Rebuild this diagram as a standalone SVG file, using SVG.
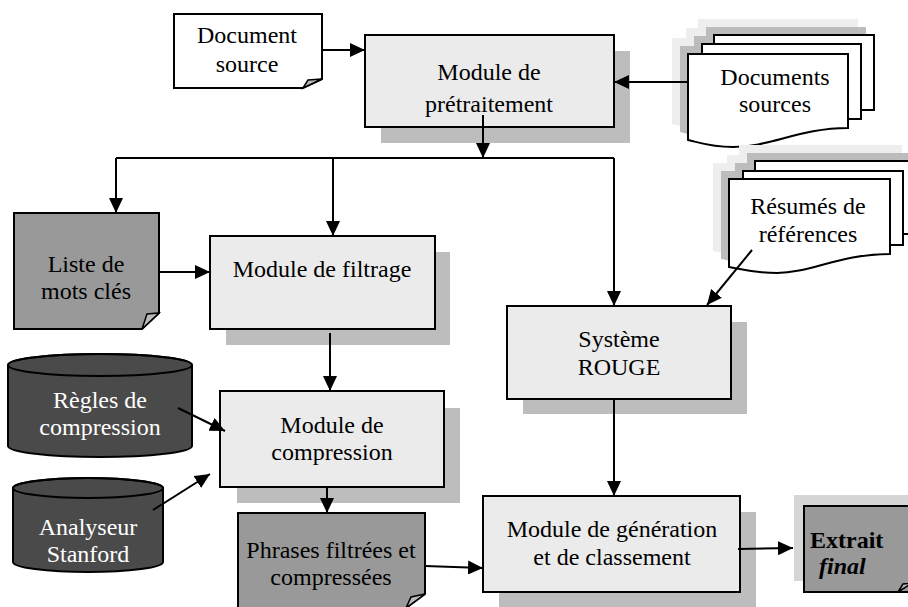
<svg xmlns="http://www.w3.org/2000/svg" width="908" height="607" viewBox="0 0 908 607">
<defs>
<style>
text{font-family:'Liberation Serif','Times New Roman','DejaVu Serif',serif;font-size:24px;fill:#000;text-anchor:middle}
.w{fill:#fff}
.box{fill:#ebebeb;stroke:#000;stroke-width:2}
.sh{fill:#bdbdbd}
.doc{fill:#fff;stroke:#000;stroke-width:2}
.dk{fill:#999;stroke:#000;stroke-width:2}
.fold{fill:#bbb;stroke:#000;stroke-width:1.5}
.cyl{fill:#4a4a4a;stroke:#000;stroke-width:2}
.s1{fill:#eeeeee}
.s2{fill:#bcbcbc}
.ln{fill:none;stroke:#000;stroke-width:2}
</style>
<marker id="ah" viewBox="0 0 15 14" refX="15" refY="7" markerWidth="15" markerHeight="14" markerUnits="userSpaceOnUse" orient="auto">
<path d="M0,0 L15,7 L0,14 Z" fill="#000"/>
</marker>
<g id="stack1">
<rect x="714" y="35" width="160" height="75"/>
<rect x="702" y="44" width="159" height="75"/>
<path d="M688,54 H848 V128 C800,128 770,147 733,147 C710,147 698,142 688,140 Z"/>
</g>
<g id="stack2">
<rect x="755" y="161" width="163" height="73"/>
<rect x="743" y="171" width="160" height="74"/>
<path d="M729,179 H890 V254 C840,254 810,273 777,273 C755,273 740,269 729,267 Z"/>
</g>
</defs>
<rect width="908" height="607" fill="#fff"/>
<g font-family="Liberation Serif, Times New Roman, DejaVu Serif, serif">

<g id="n-docsrc">
<path class="doc" d="M174,14 H322 V79 L303,88 H174 Z"/>
<path class="fold" d="M303,88 L308,80 L322,79 Z"/>
<text x="247" y="43">Document</text>
<text x="247" y="72">source</text>
</g>

<g id="n-pretrait">
<rect class="sh" x="381" y="51" width="249" height="92"/>
<rect class="box" x="365" y="35" width="249" height="92"/>
<text x="489" y="80">Module de</text>
<text x="489" y="112">prétraitement</text>
</g>

<g id="n-docssources">
<use href="#stack1" class="s1" transform="translate(-16,-16)"/>
<use href="#stack1" class="s2" transform="translate(-8,-8)"/>
<rect class="doc" x="714" y="35" width="160" height="75"/>
<rect class="doc" x="702" y="44" width="159" height="75"/>
<path class="doc" d="M688,54 H848 V128 C800,128 770,147 733,147 C710,147 698,142 688,140 Z"/>
<text x="775" y="85">Documents</text>
<text x="775" y="112">sources</text>
</g>

<g id="n-resumes">
<use href="#stack2" class="s1" transform="translate(-16,-16)"/>
<use href="#stack2" class="s2" transform="translate(-8,-8)"/>
<rect class="doc" x="755" y="161" width="163" height="73"/>
<rect class="doc" x="743" y="171" width="160" height="74"/>
<path class="doc" d="M729,179 H890 V254 C840,254 810,273 777,273 C755,273 740,269 729,267 Z"/>
<text x="808" y="214">Résumés de</text>
<text x="808" y="242">références</text>
</g>

<g id="n-liste">
<path class="dk" d="M14,213 H159 V313 L142,329 H14 Z"/>
<path class="fold" d="M142,329 L147,314 L159,313 Z"/>
<text x="86" y="272">Liste de</text>
<text x="86" y="299">mots clés</text>
</g>

<g id="n-filtrage">
<rect class="sh" x="226" y="252" width="224" height="93"/>
<rect class="box" x="210" y="236" width="225" height="93"/>
<text x="322" y="277">Module de filtrage</text>
</g>

<g id="n-rouge">
<rect class="sh" x="523" y="322" width="224" height="92"/>
<rect class="box" x="507" y="306" width="224" height="93"/>
<text x="619" y="347">Système</text>
<text x="619" y="375">ROUGE</text>
</g>

<g id="n-regles">
<path class="cyl" d="M8,365 A92,11 0 0 1 192,365 V446 A92,11 0 0 1 8,446 Z"/>
<ellipse cx="100" cy="365" rx="92" ry="11" fill="none" stroke="#000" stroke-width="2"/>
<text class="w" x="100" y="408">Règles de</text>
<text class="w" x="100" y="435">compression</text>
</g>

<g id="n-compression">
<rect class="sh" x="237" y="408" width="223" height="95"/>
<rect class="box" x="220" y="391" width="224" height="96"/>
<text x="332" y="433">Module de</text>
<text x="332" y="460">compression</text>
</g>

<g id="n-analyseur">
<path class="cyl" d="M13,488 A75,10 0 0 1 163,488 V562 A75,10 0 0 1 13,562 Z"/>
<ellipse cx="88" cy="488" rx="75" ry="10" fill="none" stroke="#000" stroke-width="2"/>
<text class="w" x="88" y="535">Analyseur</text>
<text class="w" x="88" y="562">Stanford</text>
</g>

<g id="n-phrases">
<path class="dk" d="M238,513 H425 V594 L406,608 H238 Z"/>
<path class="fold" d="M406,608 L411,597 L425,594 Z"/>
<text x="331" y="558">Phrases filtrées et</text>
<text x="331" y="585">compressées</text>
</g>

<g id="n-generation">
<rect class="sh" x="499" y="512" width="257" height="95"/>
<rect class="box" x="483" y="496" width="257" height="96"/>
<text x="612" y="537">Module de génération</text>
<text x="612" y="565">et de classement</text>
</g>

<g id="n-extrait">
<rect fill="#d6d6d6" x="794" y="495" width="114" height="86"/>
<path class="dk" d="M804,506 H912 V592 H804 Z"/>
<path class="fold" d="M898,592 L903,584 L912,583 Z"/>
<text x="810" y="548" style="text-anchor:start;font-weight:bold">Extrait</text>
<text x="819" y="574" style="text-anchor:start;font-weight:bold;font-style:italic">final</text>
</g>

</g>
<g id="connectors">
<path class="ln" d="M322,50 H365" marker-end="url(#ah)"/>
<path class="ln" d="M688,82 H614" marker-end="url(#ah)"/>
<path class="ln" d="M483,115 V158" marker-end="url(#ah)"/>
<path class="ln" d="M116,158 H614"/>
<path class="ln" d="M116,158 V213" marker-end="url(#ah)"/>
<path class="ln" d="M333,158 V236" marker-end="url(#ah)"/>
<path class="ln" d="M614,158 V306" marker-end="url(#ah)"/>
<path class="ln" d="M752,250 L707,305" marker-end="url(#ah)"/>
<path class="ln" d="M159,272 H210" marker-end="url(#ah)"/>
<path class="ln" d="M330,333 V391" marker-end="url(#ah)"/>
<path class="ln" d="M178,408 L225,431" marker-end="url(#ah)"/>
<path class="ln" d="M153,510 L210,474" marker-end="url(#ah)"/>
<path class="ln" d="M327,487 V513" marker-end="url(#ah)"/>
<path class="ln" d="M614,399 V496" marker-end="url(#ah)"/>
<path class="ln" d="M425,566 L483,568" marker-end="url(#ah)"/>
<path class="ln" d="M738,549 L793,548" marker-end="url(#ah)"/>
</g>
</svg>
